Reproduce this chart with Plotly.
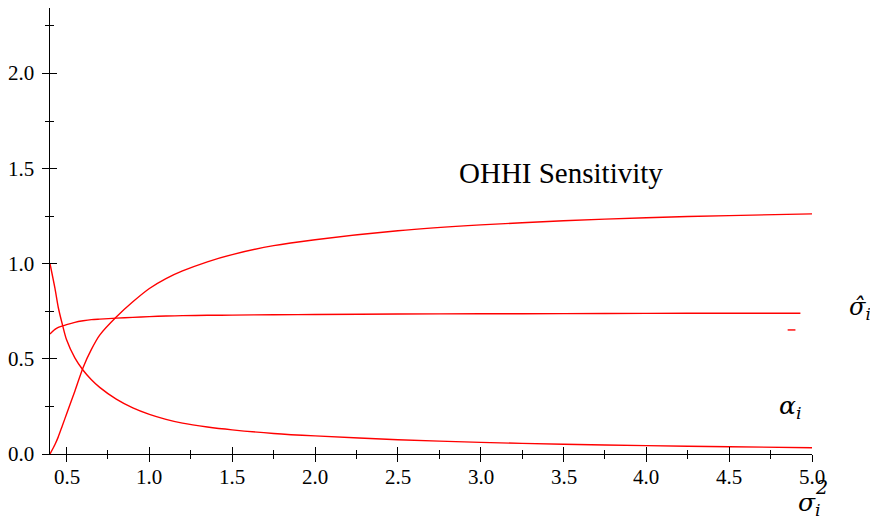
import plotly.graph_objects as go

# ---- data ----
x_vals = [0.40, 0.43, 0.45, 0.475, 0.50, 0.55, 0.60, 0.65, 0.70, 0.80, 0.90, 1.0,
          1.1, 1.2, 1.35, 1.5, 1.75, 2.0, 2.5, 3.0, 3.5, 4.0, 4.5, 5.0]
ohhi_sens = [0.0, 0.05, 0.09, 0.15, 0.21, 0.33, 0.455, 0.55, 0.625, 0.72, 0.80, 0.87,
             0.922, 0.962, 1.01, 1.048, 1.095, 1.126, 1.173, 1.204, 1.226, 1.242, 1.253, 1.262]
alpha_i = [1.0, 0.87, 0.77, 0.68, 0.60, 0.505, 0.44, 0.39, 0.35, 0.288, 0.242, 0.208,
           0.182, 0.162, 0.142, 0.127, 0.108, 0.095, 0.075, 0.061, 0.051, 0.044, 0.038, 0.033]
x_sigma = [0.40, 0.43, 0.45, 0.475, 0.50, 0.55, 0.60, 0.65, 0.70, 0.80, 0.90, 1.0,
           1.1, 1.2, 1.35, 1.5, 1.75, 2.0, 2.5, 3.0, 3.5, 4.0, 4.5, 4.93]
sigma_hat = [0.631, 0.655, 0.665, 0.673, 0.68, 0.692, 0.70, 0.706, 0.709, 0.714, 0.718, 0.722,
             0.725, 0.727, 0.729, 0.730, 0.732, 0.733, 0.736, 0.737, 0.738, 0.739, 0.740, 0.740]
dash_x = [4.853, 4.90]
dash_y = [0.652, 0.652]

x_ticks = [0.5, 1.0, 1.5, 2.0, 2.5, 3.0, 3.5, 4.0, 4.5, 5.0]
y_ticks = [0.0, 0.5, 1.0, 1.5, 2.0]
x_tick_text = ["0.5", "1.0", "1.5", "2.0", "2.5", "3.0", "3.5", "4.0", "4.5", "5.0"]
y_tick_text = ["0.0", "0.5", "1.0", "1.5", "2.0"]

RED = "#ff0000"
SERIF = "serif"
MATH = "DejaVu Serif"

fig = go.Figure()
for xs, ys in [(x_vals, ohhi_sens), (x_sigma, sigma_hat), (x_vals, alpha_i), (dash_x, dash_y)]:
    fig.add_trace(go.Scatter(x=xs, y=ys, mode="lines",
                             line=dict(color=RED, width=1.4, shape="spline", smoothing=0.8),
                             showlegend=False, hoverinfo="skip", cliponaxis=False))
# dummy trace for the overlay axes (inner half of crossing ticks)
fig.add_trace(go.Scatter(x=[None], y=[None], xaxis="x2", yaxis="y2", showlegend=False, hoverinfo="skip"))

XR = [0.4, 5.0]
YR = [0.0, 2.344]
common = dict(showgrid=False, zeroline=False, tickcolor="black", tickwidth=1.3,
              automargin=False, showticklabels=False)
minor_out = dict(ticks="outside", ticklen=4, dtick=0.25, tick0=0.25, tickcolor="black", tickwidth=1.2)
minor_in = dict(ticks="inside", ticklen=4, dtick=0.25, tick0=0.25, tickcolor="black", tickwidth=1.2)

fig.update_layout(
    width=870, height=509,
    margin=dict(l=42, r=66, t=0, b=63),
    font=dict(family=SERIF, size=21, color="black"),
    plot_bgcolor="white", paper_bgcolor="white",
    xaxis=dict(range=XR, tickmode="array", tickvals=x_ticks,
               ticks="outside", ticklen=7, showline=True, linecolor="black", linewidth=1.3,
               minor=minor_out, **common),
    yaxis=dict(range=YR, tickmode="array", tickvals=y_ticks,
               ticks="outside", ticklen=7, showline=True, linecolor="black", linewidth=1.3,
               minor=minor_out, **common),
    xaxis2=dict(range=XR, overlaying="x", anchor="y2", tickvals=x_ticks,
                ticks="inside", ticklen=7, showline=False, minor=minor_in, **common),
    yaxis2=dict(range=YR, overlaying="y", anchor="x2", tickvals=y_ticks,
                ticks="inside", ticklen=7, showline=False, minor=minor_in, **common),
)

TICKFONT = dict(family=SERIF, size=21, color="black")
# tick labels (serif), placed on the axes' own scales
for v, t in zip(x_ticks, x_tick_text):
    fig.add_annotation(text=t, x=v, y=-0.0516, xref="x", yref="paper", showarrow=False,
                       xanchor="center", yanchor="middle", font=TICKFONT)
for v, t in zip(y_ticks, y_tick_text):
    fig.add_annotation(text=t, x=-0.018, y=v, xref="paper", yref="y", showarrow=False,
                       xanchor="right", yanchor="middle", font=TICKFONT)

ann = [
    dict(text="OHHI Sensitivity", x=3.483, y=1.477, xref="x", yref="y",
         xanchor="center", yanchor="middle", font=dict(family=SERIF, size=29, color="black")),
    dict(text="<i>σ̂</i><sub><i>i</i></sub>", x=1.08, y=0.765, xref="paper", yref="y",
         xanchor="right", yanchor="middle", font=dict(family=MATH, size=24, color="black")),
    dict(text="<i>α</i><sub><i>i</i></sub>", x=4.87, y=0.247, xref="x", yref="y",
         xanchor="center", yanchor="middle", font=dict(family=MATH, size=25, color="black")),
    dict(text="<i>σ</i><sub><i>i</i></sub>", x=0.980, y=-0.113, xref="paper", yref="paper",
         xanchor="left", yanchor="middle", borderpad=0, font=dict(family=MATH, size=25, color="black")),
    dict(text="<i>2</i>", x=1.012, y=-0.074, xref="paper", yref="paper",
         xanchor="center", yanchor="middle", font=dict(family=MATH, size=19, color="black")),
]
for a in ann:
    fig.add_annotation(showarrow=False, **a)

fig.write_html("out.html")
